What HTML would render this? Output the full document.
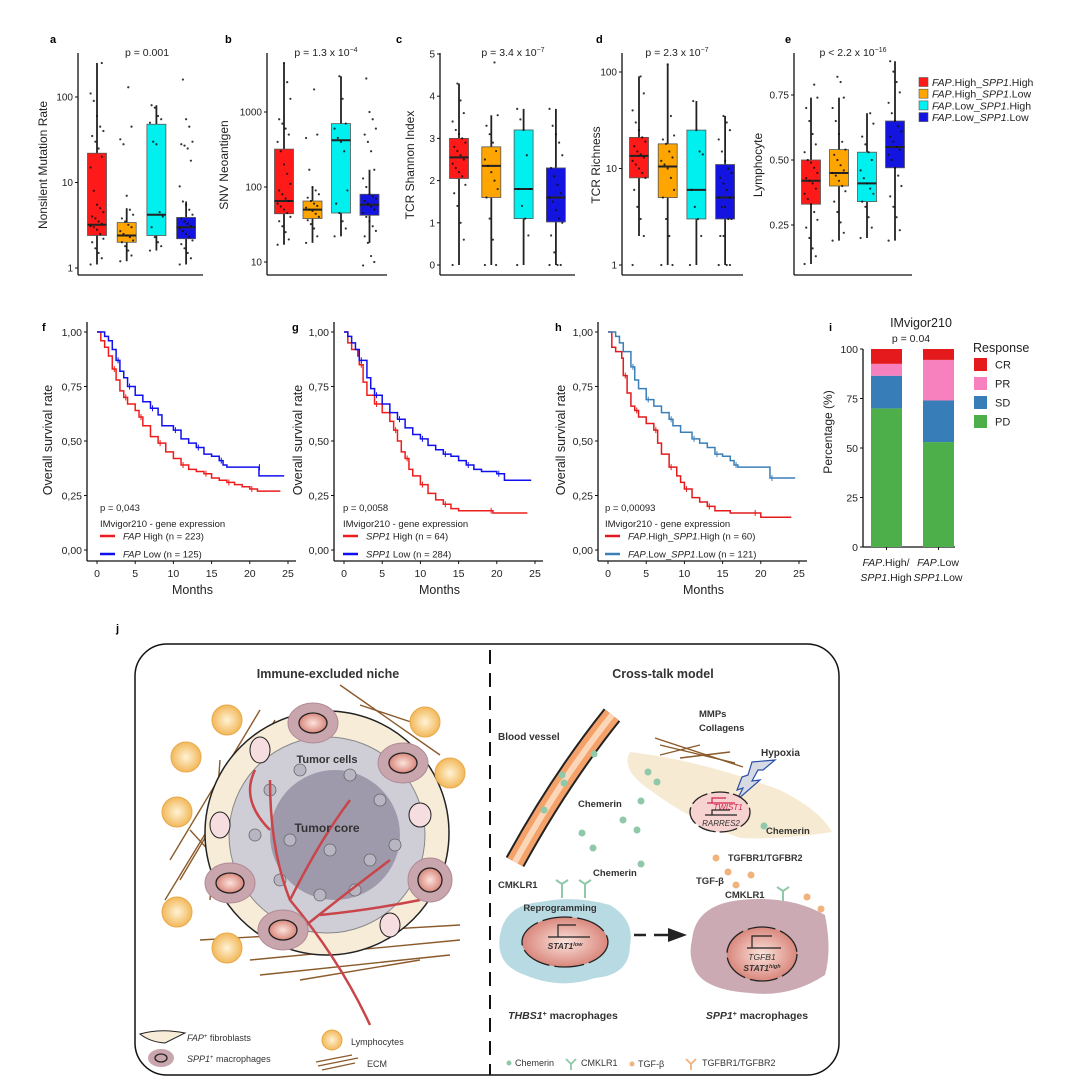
<!DOCTYPE html>
<html><head><meta charset="utf-8"><style>
body{margin:0;background:#fff}
svg{display:block;font-family:"Liberation Sans",Arial,sans-serif}
.t{font-size:10px;fill:#222}
.b{font-weight:bold}
</style></head><body>
<svg id="fig" width="1089" height="1088" viewBox="0 0 1089 1088" xmlns="http://www.w3.org/2000/svg">
<rect width="1089" height="1088" fill="#fff"/>
<defs>
<linearGradient id="vg" x1="0" y1="0" x2="1" y2="0"><stop offset="0" stop-color="#f08a3c"/><stop offset="0.5" stop-color="#fde3cc"/><stop offset="1" stop-color="#f08a3c"/></linearGradient>
<radialGradient id="nuc"><stop offset="0" stop-color="#fbe3dc"/><stop offset="1" stop-color="#d9877c"/></radialGradient>
<radialGradient id="lym"><stop offset="0" stop-color="#fff3d6"/><stop offset="1" stop-color="#f2b85a"/></radialGradient>
</defs>
<g id="charts"></g>

<!-- panel j -->
<g>
<text x="116" y="632" font-size="11" class="b">j</text>
<rect x="135" y="644" width="704" height="431" rx="32" fill="#fff" stroke="#111" stroke-width="1.5"/>
<line x1="490" y1="650" x2="490" y2="1075" stroke="#111" stroke-width="2" stroke-dasharray="14,9"/>
<text x="328" y="678" text-anchor="middle" font-size="12.5" class="b" fill="#333">Immune-excluded niche</text>
<text x="663" y="678" text-anchor="middle" font-size="12.5" class="b" fill="#333">Cross-talk model</text>

<g>
 <g stroke="#8b5a2b" stroke-width="1.4">
  <line x1="170" y1="860" x2="260" y2="710"/><line x1="180" y1="880" x2="275" y2="720"/><line x1="165" y1="900" x2="250" y2="760"/>
  <line x1="200" y1="940" x2="460" y2="925"/><line x1="250" y1="960" x2="460" y2="940"/><line x1="260" y1="975" x2="450" y2="955"/>
  <line x1="340" y1="685" x2="440" y2="755"/><line x1="360" y1="705" x2="420" y2="725"/><line x1="190" y1="830" x2="300" y2="950"/>
  <line x1="300" y1="980" x2="420" y2="960"/><line x1="220" y1="760" x2="210" y2="900"/>
 </g>
 <circle cx="327" cy="833" r="122" fill="#f7ecd8" stroke="#222" stroke-width="1.5"/>
 <circle cx="327" cy="835" r="98" fill="#cfcdd6" stroke="#888"/>
 <circle cx="335" cy="835" r="65" fill="#9f9aab"/>
 <g fill="#b9b6c3" stroke="#666" stroke-width="0.8">
  <circle cx="270" cy="790" r="6"/><circle cx="300" cy="770" r="6"/><circle cx="350" cy="775" r="6"/><circle cx="380" cy="800" r="6"/><circle cx="290" cy="840" r="6"/><circle cx="330" cy="850" r="6"/><circle cx="370" cy="860" r="6"/><circle cx="280" cy="880" r="6"/><circle cx="320" cy="895" r="6"/><circle cx="355" cy="890" r="6"/><circle cx="395" cy="845" r="6"/><circle cx="255" cy="835" r="6"/>
 </g>
 <g stroke="#c9454a" stroke-width="2.5" fill="none">
  <path d="M370 1025 Q340 960 290 900 Q270 850 270 780"/><path d="M290 900 Q320 840 350 800"/><path d="M300 930 Q350 890 390 860"/><path d="M320 915 Q370 910 420 900"/><path d="M270 830 Q240 800 255 770"/>
 </g>
 <text x="327" y="763" text-anchor="middle" font-size="11" class="b" fill="#333">Tumor cells</text>
 <text x="327" y="832" text-anchor="middle" font-size="12" class="b" fill="#333">Tumor core</text>
 <g fill="url(#lym)" stroke="#e8a94a">
  <circle cx="227" cy="720" r="15"/><circle cx="186" cy="757" r="15"/><circle cx="177" cy="812" r="15"/><circle cx="177" cy="912" r="15"/><circle cx="227" cy="948" r="15"/><circle cx="425" cy="722" r="15"/><circle cx="450" cy="773" r="15"/>
 </g>
 <g fill="#c9a5ae" stroke="#b08a94">
  <ellipse cx="313" cy="723" rx="25" ry="20"/><ellipse cx="403" cy="763" rx="25" ry="20"/><ellipse cx="230" cy="883" rx="25" ry="20"/><ellipse cx="430" cy="880" rx="22" ry="22"/><ellipse cx="283" cy="930" rx="25" ry="20"/>
 </g>
 <g fill="url(#nuc)" stroke="#222" stroke-width="1.3">
  <ellipse cx="313" cy="723" rx="14" ry="10"/><ellipse cx="403" cy="763" rx="14" ry="10"/><ellipse cx="230" cy="883" rx="14" ry="10"/><ellipse cx="430" cy="880" rx="12" ry="12"/><ellipse cx="283" cy="930" rx="14" ry="10"/>
 </g>
 <g fill="#f6dde0" stroke="#222"><ellipse cx="260" cy="750" rx="10" ry="13"/><ellipse cx="420" cy="815" rx="11" ry="12"/><ellipse cx="220" cy="825" rx="10" ry="13"/><ellipse cx="390" cy="925" rx="10" ry="12"/></g>
</g>

<g>
 <path d="M140 1034 Q160 1028 185 1033 L165 1043 Q150 1042 140 1034Z" fill="#f7ecd8" stroke="#222"/>
 <text x="187" y="1041" font-size="9" fill="#333"><tspan font-style="italic">FAP</tspan><tspan font-size="6" dy="-3">+</tspan><tspan dy="3"> fibroblasts</tspan></text>
 <ellipse cx="161" cy="1058" rx="13" ry="9" fill="#c9a5ae"/><ellipse cx="161" cy="1058" rx="6" ry="4" fill="none" stroke="#222" stroke-width="1.3"/>
 <text x="187" y="1062" font-size="9" fill="#333"><tspan font-style="italic">SPP1</tspan><tspan font-size="6" dy="-3">+</tspan><tspan dy="3"> macrophages</tspan></text>
 <circle cx="332" cy="1040" r="10" fill="url(#lym)" stroke="#e8a94a"/>
 <text x="351" y="1045" font-size="9" fill="#333">Lymphocytes</text>
 <g stroke="#8b5a2b" stroke-width="1.3"><line x1="318" y1="1066" x2="358" y2="1058"/><line x1="316" y1="1062" x2="352" y2="1055"/><line x1="322" y1="1070" x2="355" y2="1063"/></g>
 <text x="367" y="1067" font-size="9" fill="#333">ECM</text>
</g>

<g>
 <path d="M612 715 Q560 780 515 862" stroke="#222" stroke-width="21" fill="none"/>
 <path d="M612 715 Q560 780 515 862" stroke="#f4a26a" stroke-width="17" fill="none"/>
 <path d="M612 715 Q560 780 515 862" stroke="#fde3cc" stroke-width="6" fill="none" opacity="0.8"/>
 <text x="498" y="740" font-size="10" class="b" fill="#333">Blood vessel</text>
 <path d="M630 752 Q700 760 780 790 Q820 810 832 832 Q780 840 740 838 Q690 820 650 790 Q620 770 630 752Z" fill="#f6ead2"/>
 <g stroke="#8b5a2b" stroke-width="1.4"><line x1="655" y1="738" x2="743" y2="767"/><line x1="660" y1="745" x2="735" y2="763"/><line x1="660" y1="755" x2="700" y2="745"/><line x1="680" y1="758" x2="730" y2="752"/></g>
 <text x="699" y="717" font-size="9.5" class="b" fill="#333">MMPs</text>
 <text x="699" y="731" font-size="9.5" class="b" fill="#333">Collagens</text>
 <text x="761" y="756" font-size="10" class="b" fill="#333">Hypoxia</text>
 <path d="M775 760 L752 762 L748 775 L742 777 L737 790 L743 788 L737 800 L760 780 L752 781 L758 770 L763 770Z" fill="#d6dbe3" stroke="#2a4fa8" stroke-width="1.2"/>
 <ellipse cx="720" cy="812" rx="30" ry="20" fill="#f6d3d0" stroke="#222" stroke-width="1.3" stroke-dasharray="18,4"/>
 <path d="M707 803 h28 M712 803 v-5 h14" stroke="#d6204d" stroke-width="1.2" fill="none"/>
 <text x="728" y="810" text-anchor="middle" font-size="8" font-style="italic" fill="#d6204d">TWIST1</text>
 <path d="M705 815 h32 M712 815 v-5 h18" stroke="#222" stroke-width="1.2" fill="none"/>
 <text x="721" y="826" text-anchor="middle" font-size="8" font-style="italic" fill="#333">RARRES2</text>
 <g fill="#8fc9a9"><circle cx="648" cy="772" r="3.5"/><circle cx="657" cy="782" r="3.5"/><circle cx="641" cy="801" r="3.5"/><circle cx="623" cy="820" r="3.5"/><circle cx="637" cy="830" r="3.5"/><circle cx="582" cy="833" r="3.5"/><circle cx="593" cy="848" r="3.5"/><circle cx="641" cy="864" r="3.5"/><circle cx="594" cy="754" r="3.5"/><circle cx="562" cy="775" r="3.5"/><circle cx="564" cy="783" r="3.5"/><circle cx="544" cy="810" r="3.5"/><circle cx="764" cy="826" r="3.5"/></g>
 <text x="578" y="807" font-size="9.5" class="b" fill="#333">Chemerin</text>
 <text x="766" y="834" font-size="9.5" class="b" fill="#333">Chemerin</text>
 <text x="593" y="876" font-size="9.5" class="b" fill="#333">Chemerin</text>
 <text x="728" y="861" font-size="9" class="b" fill="#333">TGFBR1/TGFBR2</text>
 <text x="696" y="884" font-size="9.5" class="b" fill="#333">TGF-β</text>
 <text x="725" y="898" font-size="9.5" class="b" fill="#333">CMKLR1</text>
 <text x="498" y="888" font-size="9.5" class="b" fill="#333">CMKLR1</text>
 <g fill="#f1b27d"><circle cx="716" cy="858" r="3.5"/><circle cx="728" cy="872" r="3.5"/><circle cx="751" cy="875" r="3.5"/><circle cx="736" cy="885" r="3.5"/><circle cx="807" cy="897" r="3.5"/><circle cx="821" cy="909" r="3.5"/><circle cx="807" cy="913" r="3.5"/><circle cx="817" cy="920" r="3.5"/><circle cx="811" cy="928" r="3.5"/></g>
 <path d="M500 935 Q505 905 540 902 Q575 895 610 905 Q635 920 630 945 Q630 975 595 978 Q560 990 525 975 Q495 965 500 935Z" fill="#b8dbe3"/>
 <g stroke="#8fc9a9" stroke-width="2" fill="none"><path d="M562 898 v-14 M556 880 l6 4 l6 -4"/><path d="M585 898 v-14 M579 880 l6 4 l6 -4"/><path d="M783 905 v-14 M777 887 l6 4 l6 -4"/></g>
 <text x="560" y="911" text-anchor="middle" font-size="9.5" class="b" fill="#333">Reprogramming</text>
 <ellipse cx="565" cy="942" rx="43" ry="25" fill="url(#nuc)" stroke="#222" stroke-width="1.3" stroke-dasharray="30,5"/>
 <path d="M548 937 h42 M558 937 v-12 h18" stroke="#222" stroke-width="1.2" fill="none"/>
 <text x="565" y="949" text-anchor="middle" font-size="8.5" class="b" font-style="italic" fill="#333">STAT1<tspan font-size="5.5" dy="-3">low</tspan></text>
 <path d="M634 935 h12 M654 935 h14" stroke="#222" stroke-width="2.5"/>
 <path d="M668 928 L687 935 L668 942Z" fill="#222"/>
 <path d="M692 940 Q695 905 740 900 Q790 895 825 915 Q832 950 825 975 Q790 998 750 993 Q705 990 695 970 Q688 955 692 940Z" fill="#cbaab3"/>
 <ellipse cx="762" cy="954" rx="35" ry="27" fill="url(#nuc)" stroke="#222" stroke-width="1.3" stroke-dasharray="28,5"/>
 <path d="M747 948 h34 M752 948 v-12 h20" stroke="#222" stroke-width="1.2" fill="none"/>
 <text x="762" y="960" text-anchor="middle" font-size="8.5" font-style="italic" fill="#333">TGFB1</text>
 <text x="762" y="971" text-anchor="middle" font-size="8.5" class="b" font-style="italic" fill="#333">STAT1<tspan font-size="5.5" dy="-3">high</tspan></text>
 <text x="563" y="1019" text-anchor="middle" font-size="10.5" class="b" fill="#333"><tspan font-style="italic">THBS1</tspan><tspan font-size="7" dy="-3">+</tspan><tspan dy="3"> macrophages</tspan></text>
 <text x="757" y="1019" text-anchor="middle" font-size="10.5" class="b" fill="#333"><tspan font-style="italic">SPP1</tspan><tspan font-size="7" dy="-3">+</tspan><tspan dy="3"> macrophages</tspan></text>
</g>
<g>
 <circle cx="509" cy="1063" r="2.5" fill="#8fc9a9"/><text x="515" y="1066" font-size="9" fill="#333">Chemerin</text>
 <path d="M571 1070 v-6 M566 1059 l5 5 l5 -5" stroke="#8fc9a9" stroke-width="1.8" fill="none"/><text x="581" y="1066" font-size="9" fill="#333">CMKLR1</text>
 <circle cx="632" cy="1064" r="2.5" fill="#f1b27d"/><text x="638" y="1067" font-size="9" fill="#333">TGF-β</text>
 <path d="M691 1070 v-6 M686 1059 l5 5 l5 -5" stroke="#f1b27d" stroke-width="1.8" fill="none"/><text x="702" y="1066" font-size="9" fill="#333">TGFBR1/TGFBR2</text>
</g>
</g>
</svg>
<script>
// ---- panel a–e data (box stats: low whisker, q1, median, q3, high whisker) ----
const groupColors = ["#ff1a1a", "#ffa500", "#00f0f0", "#1414e0"];
const aLow = [1.1, 1.2, 1.6, 1.1], aQ1 = [2.4, 2.0, 2.4, 2.2], aMed = [3.2, 2.4, 4.2, 3.0], aQ3 = [22, 3.4, 48, 3.9], aHigh = [250, 5, 80, 6];
const aPts = [[1.1,1.3,1.5,1.7,2,2.2,2.5,2.8,3,3.1,3.3,3.5,3.8,4,4.5,5,5.5,8,15,20,25,30,35,40,45,60,90,110,250],
 [1.2,1.4,1.6,1.8,2,2.1,2.3,2.4,2.5,2.7,3,3.2,3.5,3.8,4.2,4.8,7,28,32,45,130],
 [1.6,1.8,2,2.3,3,4,4.5,28,30,50,55,60,75,80],
 [1.1,1.3,1.5,1.7,1.9,2.1,2.3,2.5,2.7,2.9,3.1,3.3,3.5,3.8,4.2,4.8,5.5,6,9,18,25,27,28,30,45,55,160]];
const bLow = [17, 18, 22, 18], bQ1 = [44, 38, 45, 42], bMed = [65, 50, 420, 58], bQ3 = [320, 65, 700, 80], bHigh = [4500, 100, 3000, 170];
const bPts = [[17,20,25,30,35,40,45,50,55,60,65,70,80,90,110,150,200,300,400,500,600,700,800,1500,2500,4500],
 [18,22,28,32,36,40,44,48,50,53,56,60,65,72,80,90,100,170,450,500,2000],
 [22,28,35,45,60,90,300,400,450,600,700,1500,3000],
 [9,10,12,18,22,26,30,35,40,45,50,55,60,65,70,75,80,100,130,170,300,400,500,600,800,1000,2800]];
const cLow = [0, 0, 0, 0], cQ1 = [2.05, 1.6, 1.1, 1.02], cMed = [2.55, 2.35, 1.8, 1.6], cQ3 = [3.0, 2.8, 3.2, 2.3], cHigh = [4.3, 3.55, 3.7, 3.7];
const cPts = [[0,0.6,1,1.4,1.7,1.9,2.1,2.2,2.3,2.4,2.5,2.6,2.7,2.8,2.9,3,3.1,3.2,3.4,3.6,3.9,4.3],
 [0,0,0.6,1.1,1.6,1.8,2,2.2,2.35,2.5,2.7,2.9,3.1,3.3,3.55,4.8],
 [0,0.7,1.1,1.4,1.8,1.8,2.6,3.2,3.45,3.7],
 [0,0,0,0.3,0.7,1,1.1,1.3,1.5,1.6,1.7,1.9,2.1,2.3,2.6,2.9,3.1,3.3,3.7]];
const dLow = [2, 1, 1, 1], dQ1 = [8, 5, 3, 3], dMed = [13.5, 10.5, 6, 5], dQ3 = [21, 18, 25, 11], dHigh = [90, 120, 50, 35];
const dPts = [[1,2,3,4,6,8,9,10,11,12,13,14,15,17,19,21,25,30,40,60,90],
 [1,1,2,3,5,6,8,10,11,12,13,15,18,20,22,35,120],
 [1,2,3,4,6,14,15,25,50],
 [1,1,1,2,2,3,3,4,4,5,5,6,7,8,9,10,12,15,20,25,30,35]];
const eLow = [0.10, 0.19, 0.20, 0.19], eQ1 = [0.33, 0.40, 0.34, 0.47], eMed = [0.42, 0.45, 0.41, 0.55], eQ3 = [0.50, 0.54, 0.53, 0.65], eHigh = [0.74, 0.74, 0.68, 0.88];
const ePts = [[0.1,0.13,0.16,0.2,0.24,0.27,0.3,0.33,0.35,0.37,0.39,0.41,0.42,0.43,0.45,0.47,0.49,0.5,0.53,0.56,0.6,0.65,0.7,0.74,0.79],
 [0.19,0.22,0.26,0.3,0.34,0.38,0.4,0.42,0.44,0.45,0.46,0.48,0.5,0.52,0.54,0.57,0.6,0.65,0.7,0.74,0.8,0.82],
 [0.2,0.24,0.28,0.32,0.34,0.37,0.39,0.41,0.43,0.46,0.5,0.53,0.56,0.59,0.64,0.68],
 [0.19,0.23,0.28,0.32,0.36,0.4,0.44,0.47,0.5,0.52,0.54,0.55,0.57,0.59,0.61,0.63,0.65,0.68,0.72,0.76,0.8,0.84,0.88]];
const aTicks = [1, 10, 100], bTicks = [10, 100, 1000], cTicks = [0, 1, 2, 3, 4, 5], dTicks = [1, 10, 100], eTicks = [0.25, 0.50, 0.75];
const legendLabels = [["FAP",".High_","SPP1",".High"],["FAP",".High_","SPP1",".Low"],["FAP",".Low_","SPP1",".High"],["FAP",".Low_","SPP1",".Low"]];

// ---- survival data [months, survival] ----
const fHighT = [0,0.5,1,1.5,2,2.5,3,3.5,4,5,5.5,6,7,8,9,10,11,12,13,14,15,16,17,18,19,20,21,24];
const fHighS = [1,.96,.93,.89,.83,.78,.73,.70,.67,.64,.61,.57,.52,.49,.45,.42,.39,.37,.36,.35,.33,.32,.31,.30,.29,.28,.27,.27];
const fLowT = [0,1,1.5,2,2.5,3,3.5,4,5,6,7,8,8.5,10,11,12,13,14,15,16,16.5,17,21,21.2,24.5];
const fLowS = [1,.98,.96,.92,.87,.82,.79,.75,.71,.68,.65,.62,.57,.55,.51,.49,.47,.44,.43,.41,.39,.38,.38,.34,.34];
const gHighT = [0,0.5,1,1.8,2,2.5,3,4,5,6,6.5,7,7.5,8,8.5,9,10,11,12,13,14,15,19,19.5,24];
const gHighS = [1,.95,.92,.89,.85,.77,.71,.67,.63,.59,.55,.50,.45,.42,.37,.34,.30,.26,.23,.21,.19,.18,.18,.17,.17];
const gLowT = [0,0.5,1,1.5,2,3,3.5,4,5,6,7,8,9,10,11,12,13,14,15,16,17,18,20,21,24.5];
const gLowS = [1,.98,.95,.92,.87,.79,.74,.71,.67,.63,.60,.56,.53,.51,.48,.46,.44,.43,.41,.39,.37,.36,.35,.32,.32];
const hHighT = [0,0.5,1,1.8,2,2.5,3,3.5,4,5,6,6.5,7,8,9,9.5,10,11,12,13,14,16,19,20,24];
const hHighS = [1,.93,.91,.88,.80,.72,.66,.64,.61,.58,.55,.49,.44,.38,.34,.31,.28,.24,.22,.20,.18,.17,.17,.15,.15];
const hLowT = [0,1,1.5,2,3,3.5,4,5,6,7,8,8.5,9.5,11,12,13,14,15,16,16.5,17,21,21.2,24.5];
const hLowS = [1,.98,.95,.91,.84,.78,.74,.69,.66,.63,.60,.57,.54,.51,.49,.47,.44,.43,.41,.39,.38,.38,.33,.33];
const survTicks = [0, 0.25, 0.5, 0.75, 1.0], survTickLabels = ["0,00","0,25","0,50","0,75","1,00"], monthTicks = [0, 5, 10, 15, 20, 25];

// ---- panel i data ----
const respCats = ["PD", "SD", "PR", "CR"];
const respColors = ["#4daf4a", "#377eb8", "#f781bf", "#e41a1c"];
const bar1Vals = [70, 16.5, 6, 7.5];
const bar2Vals = [53, 21, 20.5, 5.5];
const pctTicks = [0, 25, 50, 75, 100];

const NS = "http://www.w3.org/2000/svg";
const root = document.getElementById("charts");
function mk(tag, attrs, parent, text) {
  const e = document.createElementNS(NS, tag);
  for (const k in attrs) e.setAttribute(k, attrs[k]);
  if (text !== undefined) e.textContent = text;
  (parent || root).appendChild(e);
  return e;
}

function boxPanel(cfg, lo, q1, md, q3, hi, pts, ticks) {
  const g = mk("g", {});
  
  
  const y = cfg.y;
  mk("line", {x1: cfg.ax, y1: 53, x2: cfg.ax, y2: 275, stroke: "#111", "stroke-width": 1.3}, g);
  mk("line", {x1: cfg.ax, y1: 275, x2: cfg.xEnd, y2: 275, stroke: "#111", "stroke-width": 1.3}, g);
  ticks.forEach((t, i) => {
    mk("line", {x1: cfg.ax - 3, x2: cfg.ax, y1: y(t), y2: y(t), stroke: "#111"}, g);
    const tl = mk("text", {x: cfg.ax - 5, y: y(t) + 3.5, "text-anchor": "end", class: "t"}, g, cfg.fmt ? cfg.fmt(t) : String(t));
    
    
  });
  const yt = mk("text", {x: cfg.yl, y: 165, "text-anchor": "middle", "font-size": 12, fill: "#222", transform: `rotate(-90 ${cfg.yl} 165)`}, g, cfg.ylabel);
  
  
  const pl = mk("text", {x: cfg.letterX, y: 43, "font-size": 11, class: "b"}, g, cfg.letter);
  
  
  const pt = mk("text", {x: cfg.pX, y: 56, "text-anchor": "middle", "font-size": 10.5, fill: "#222"}, g);
  
  
  mk("tspan", {}, pt, cfg.p[0]);
  if (cfg.p[1]) { mk("tspan", {dy: -4, "font-size": 7}, pt, cfg.p[1]); }
  for (let k = 0; k < 4; k++) {
    const cx = cfg.x0 + k * cfg.dx, w = 19;
    mk("line", {x1: cx, x2: cx, y1: y(lo[k]), y2: y(hi[k]), stroke: "#222", "stroke-width": 1.8}, g);
    const r = mk("rect", {x: cx - w / 2, y: y(q3[k]), width: w, height: y(q1[k]) - y(q3[k]), fill: groupColors[k], stroke: "#555", "stroke-width": 0.8}, g);
    
    
    mk("line", {x1: cx - w / 2, x2: cx + w / 2, y1: y(md[k]), y2: y(md[k]), stroke: "#222", "stroke-width": 2}, g);
    pts[k].forEach((v, i) => {
      const off = (((i * 7) % 9) - 4) * 1.6;
      const c = mk("circle", {cx: cx + off, cy: y(v), r: 1.1, fill: "#111", opacity: 0.85}, g);
      
      
    });
  }
}
const logY = (y1, dec) => v => y1 - dec * Math.log10(v);
boxPanel({name: "panel-a-mutation", letter: "a", letterX: 50, ax: 78, xEnd: 203, x0: 97, dx: 29.7, y: logY(268, 85.5), yl: 47, ylabel: "Nonsilent Mutation Rate", pX: 147, p: ["p = 0.001"]}, aLow, aQ1, aMed, aQ3, aHigh, aPts, aTicks);
boxPanel({name: "panel-b-neoantigen", letter: "b", letterX: 225, ax: 267, xEnd: 387, x0: 284, dx: 28.5, y: logY(337, 75), yl: 228, ylabel: "SNV Neoantigen", pX: 326, p: ["p = 1.3 x 10", "−4"]}, bLow, bQ1, bMed, bQ3, bHigh, bPts, bTicks);
boxPanel({name: "panel-c-shannon", letter: "c", letterX: 396, ax: 440, xEnd: 575, x0: 459, dx: 32.3, y: v => 265 - 42.2 * v, yl: 414, ylabel: "TCR Shannon Index", pX: 513, p: ["p = 3.4 x 10", "−7"]}, cLow, cQ1, cMed, cQ3, cHigh, cPts, cTicks);
boxPanel({name: "panel-d-richness", letter: "d", letterX: 596, ax: 622, xEnd: 743, x0: 639, dx: 28.7, y: logY(265, 96.5), yl: 600, ylabel: "TCR Richness", pX: 677, p: ["p = 2.3 x 10", "−7"]}, dLow, dQ1, dMed, dQ3, dHigh, dPts, dTicks);
boxPanel({name: "panel-e-lymphocyte", letter: "e", letterX: 785, ax: 794, xEnd: 912, x0: 811, dx: 28, y: v => 160 - (v - 0.5) * 260, yl: 762, ylabel: "Lymphocyte", pX: 853, fmt: t => t.toFixed(2), p: ["p  < 2.2 x 10", "−16"]}, eLow, eQ1, eMed, eQ3, eHigh, ePts, eTicks);

// legend a–e
const lg = mk("g", {});


legendLabels.forEach((lab, i) => {
  const yy = 82 + i * 11.7;
  const sw = mk("rect", {x: 919, y: yy - 4.5, width: 9, height: 9, fill: groupColors[i], stroke: "#555", "stroke-width": 0.6}, lg);
  
  
  const t = mk("text", {x: 932, y: yy + 4, "font-size": 10.5, fill: "#222"}, lg);
  
  
  mk("tspan", {"font-style": "italic"}, t, lab[0]); mk("tspan", {}, t, lab[1]);
  mk("tspan", {"font-style": "italic"}, t, lab[2]); mk("tspan", {}, t, lab[3]);
});

// survival panels
function survPanel(cfg, series) {
  const g = mk("g", {});
  
  
  const x = m => cfg.x0 + m * 7.64, y = s => 550 - s * 218;
  mk("line", {x1: cfg.ax, y1: 322, x2: cfg.ax, y2: 561, stroke: "#111", "stroke-width": 1.3}, g);
  mk("line", {x1: cfg.ax, y1: 561, x2: x(25) + 8, y2: 561, stroke: "#111", "stroke-width": 1.3}, g);
  survTicks.forEach((t, i) => {
    mk("line", {x1: cfg.ax - 3, x2: cfg.ax, y1: y(t), y2: y(t), stroke: "#111"}, g);
    mk("text", {x: cfg.ax - 5, y: y(t) + 4, "text-anchor": "end", "font-size": 10.5, fill: "#222"}, g, survTickLabels[i]);
  });
  monthTicks.forEach(m => {
    mk("line", {x1: x(m), x2: x(m), y1: 561, y2: 564, stroke: "#111"}, g);
    mk("text", {x: x(m), y: 577, "text-anchor": "middle", "font-size": 10.5, fill: "#222"}, g, String(m));
  });
  mk("text", {x: x(12.5), y: 594, "text-anchor": "middle", "font-size": 12.5, fill: "#222"}, g, "Months");
  mk("text", {x: cfg.yl, y: 440, "text-anchor": "middle", "font-size": 12.5, fill: "#222", transform: `rotate(-90 ${cfg.yl} 440)`}, g, "Overall survival rate");
  mk("text", {x: cfg.letterX, y: 331, "font-size": 11, class: "b"}, g, cfg.letter);
  series.forEach(s => {
    let d = `M${x(s.t[0])},${y(s.s[0])}`;
    for (let i = 1; i < s.t.length; i++) d += ` H${x(s.t[i])} V${y(s.s[i])}`;
    const p = mk("path", {d, fill: "none", stroke: s.c, "stroke-width": 1.5}, g);
    
    
    for (let i = 4; i < s.t.length; i += 3) mk("line", {x1: x(s.t[i]) + 2, x2: x(s.t[i]) + 2, y1: y(s.s[i]) - 3, y2: y(s.s[i]) + 3, stroke: s.c}, g);
  });
  const tx = cfg.tx;
  mk("text", {x: tx, y: 511, "font-size": 9.5, fill: "#222"}, g, cfg.p);
  mk("text", {x: tx, y: 527, "font-size": 9.5, fill: "#222"}, g, "IMvigor210 - gene expression");
  series.forEach((s, i) => {
    const yy = 536 + i * 18;
    mk("line", {x1: tx, x2: tx + 15, y1: yy, y2: yy, stroke: s.c, "stroke-width": 2.5}, g);
    const t = mk("text", {x: tx + 23, y: yy + 3.5, "font-size": 9.5, fill: "#222"}, g);
    
    
    s.lab.forEach((part, j) => mk("tspan", j % 2 === 0 ? {"font-style": "italic"} : {}, t, part));
  });
}
survPanel({name: "panel-f-fap-survival", letter: "f", letterX: 42, ax: 87, x0: 97, yl: 52, tx: 100, p: "p = 0,043"},
  [{t: fHighT, s: fHighS, c: "#ee1c1c", lab: ["FAP", " High (n = 223)"]}, {t: fLowT, s: fLowS, c: "#1010ee", lab: ["FAP", " Low (n = 125)"]}]);
survPanel({name: "panel-g-spp1-survival", letter: "g", letterX: 292, ax: 334, x0: 344, yl: 302, tx: 343, p: "p = 0,0058"},
  [{t: gHighT, s: gHighS, c: "#ee1c1c", lab: ["SPP1", " High (n = 64)"]}, {t: gLowT, s: gLowS, c: "#1010ee", lab: ["SPP1", " Low (n = 284)"]}]);
survPanel({name: "panel-h-combined-survival", letter: "h", letterX: 555, ax: 598, x0: 608, yl: 565, tx: 605, p: "p = 0,00093"},
  [{t: hHighT, s: hHighS, c: "#e31a1c", lab: ["FAP", ".High_", "SPP1", ".High (n = 60)"]}, {t: hLowT, s: hLowS, c: "#3a7fb8", lab: ["FAP", ".Low_", "SPP1", ".Low (n = 121)"]}]);

// panel i
const gi = mk("g", {});


const yi = v => 547 - v * 1.98;
mk("line", {x1: 863, y1: 349, x2: 863, y2: 547, stroke: "#111", "stroke-width": 1.3}, gi);
mk("line", {x1: 863, y1: 547, x2: 955, y2: 547, stroke: "#111", "stroke-width": 1.3}, gi);
pctTicks.forEach(t => {
  mk("line", {x1: 860, x2: 863, y1: yi(t), y2: yi(t), stroke: "#111"}, gi);
  mk("text", {x: 858, y: yi(t) + 4, "text-anchor": "end", "font-size": 10.5, fill: "#222"}, gi, String(t));
});
mk("text", {x: 832, y: 432, "text-anchor": "middle", "font-size": 12, fill: "#222", transform: "rotate(-90 832 432)"}, gi, "Percentage (%)");
mk("text", {x: 829, y: 331, "font-size": 11, class: "b"}, gi, "i");
mk("text", {x: 921, y: 327, "text-anchor": "middle", "font-size": 12.5, fill: "#222"}, gi, "IMvigor210");
mk("text", {x: 911, y: 342, "text-anchor": "middle", "font-size": 10.5, fill: "#222"}, gi, "p = 0.04");
[[bar1Vals, 871, ["FAP", ".High/", "SPP1", ".High"]], [bar2Vals, 923, ["FAP", ".Low", "SPP1", ".Low"]]].forEach(([vals, bx, lab]) => {
  let cum = 0;
  vals.forEach((v, k) => {
    const r = mk("rect", {x: bx, y: yi(cum + v), width: 31, height: yi(cum) - yi(cum + v), fill: respColors[k]}, gi);
    
    
    cum += v;
  });
  mk("line", {x1: bx + 15.5, x2: bx + 15.5, y1: 547, y2: 550, stroke: "#111"}, gi);
  const t1 = mk("text", {x: bx + 15, y: 566, "text-anchor": "middle", "font-size": 10.5, fill: "#222"}, gi);
  mk("tspan", {"font-style": "italic"}, t1, lab[0]); mk("tspan", {}, t1, lab[1]);
  const t2 = mk("text", {x: bx + 15, y: 581, "text-anchor": "middle", "font-size": 10.5, fill: "#222"}, gi);
  mk("tspan", {"font-style": "italic"}, t2, lab[2]); mk("tspan", {}, t2, lab[3]);
});
mk("text", {x: 973, y: 352, "font-size": 12.5, fill: "#222"}, gi, "Response");
["CR", "PR", "SD", "PD"].forEach((c, i) => {
  const k = respCats.indexOf(c), yy = 358 + i * 19;
  const sw = mk("rect", {x: 974, y: yy, width: 13, height: 13, fill: respColors[k]}, gi);
  
  
  mk("text", {x: 995, y: yy + 10.5, "font-size": 11, fill: "#222"}, gi, c);
});
</script>
</body></html>
